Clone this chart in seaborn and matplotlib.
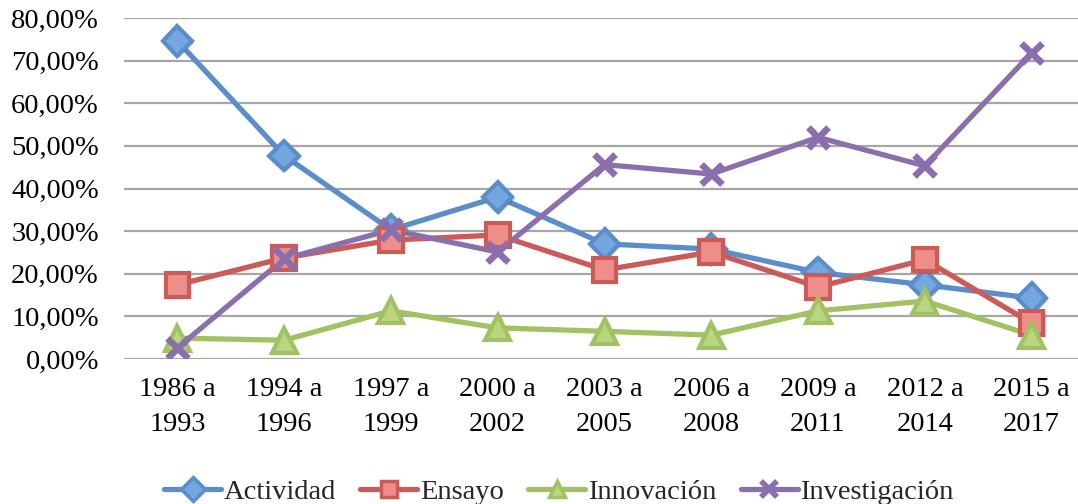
import numpy as np
import pandas as pd
import matplotlib
matplotlib.use("Agg")
import matplotlib.pyplot as plt
import matplotlib.patheffects as pe
from matplotlib.lines import Line2D
from matplotlib.ticker import FuncFormatter
import seaborn as sns

periodos = ["1986 a\n1993", "1994 a\n1996", "1997 a\n1999", "2000 a\n2002", "2003 a\n2005",
            "2006 a\n2008", "2009 a\n2011", "2012 a\n2014", "2015 a\n2017"]
actividad = [74.6, 47.7, 30.3, 38.0, 27.0, 25.8, 20.3, 17.4, 14.3]
ensayo = [17.4, 23.7, 27.9, 29.1, 20.9, 25.1, 16.9, 23.3, 8.4]
innovacion = [4.9, 4.4, 11.3, 7.3, 6.5, 5.6, 11.3, 13.6, 5.6]
investigacion = [2.6, 23.5, 30.3, 25.1, 45.6, 43.4, 52.0, 45.3, 71.8]

series = ["Actividad", "Ensayo", "Innovación", "Investigación"]
valores = [actividad, ensayo, innovacion, investigacion]

df = pd.DataFrame({
    "periodo": np.tile(np.arange(len(periodos)), len(series)),
    "serie": np.repeat(series, len(periodos)),
    "valor": np.concatenate(valores) / 100.0,
})

sns.set_theme(style="white")
plt.rcParams["font.family"] = ["Liberation Serif", "DejaVu Serif"]

colores = {"Actividad": "#5A8ECB", "Ensayo": "#CC5B57",
           "Innovación": "#A0C262", "Investigación": "#8A6FAF"}
relleno = {"Actividad": "#74A6E0", "Ensayo": "#EE8E8A",
           "Innovación": "#B9D57E", "Investigación": "#8A6FAF"}
marcas = {"Actividad": "D", "Ensayo": "s", "Innovación": "^", "Investigación": "x"}
tam = {"Actividad": 15, "Ensayo": 17, "Innovación": 18, "Investigación": 15}

fig = plt.figure(figsize=(10.78, 5.04), dpi=100)
ax = fig.add_axes([124 / 1078, 145 / 504, 961 / 1078, 341 / 504])

sns.lineplot(data=df, x="periodo", y="valor", hue="serie", palette=colores,
             linewidth=3.8, ax=ax, legend=False, sort=False)

sombra = [pe.SimplePatchShadow(offset=(1.5, -1.5), alpha=0.25), pe.Normal()]
for nombre, vals in zip(series, valores):
    xs = np.arange(len(periodos))
    ys = np.array(vals) / 100.0
    if marcas[nombre] == "x":
        ax.plot(xs, ys, linestyle="none", marker="x", markersize=tam[nombre],
                markeredgewidth=4.8, color=colores[nombre], zorder=4,
                path_effects=sombra)
    else:
        ax.plot(xs, ys, linestyle="none", marker=marcas[nombre], markersize=tam[nombre],
                markerfacecolor=relleno[nombre], markeredgecolor=colores[nombre],
                markeredgewidth=3, zorder=4, path_effects=sombra)

ax.set_xlim(-0.5, len(periodos) - 0.5)
ax.set_ylim(0, 0.8)
ax.set_yticks(np.arange(0, 0.81, 0.1))
ax.yaxis.set_major_formatter(FuncFormatter(lambda v, p: f"{v * 100:.2f}%".replace(".", ",")))
ax.set_xticks(np.arange(len(periodos)))
ax.set_xticklabels(periodos, linespacing=1.5)
ax.tick_params(axis="y", labelsize=20.5, pad=18, length=0, colors="#000000")
ax.tick_params(axis="x", labelsize=20.5, pad=13, length=0, colors="#000000")
ax.set_xlabel("")
ax.set_ylabel("")
ax.grid(axis="y", color="#A6A6A6", linewidth=1.6)
ax.grid(axis="x", visible=False)
ax.set_axisbelow(True)
for s in ax.spines.values():
    s.set_visible(False)

handles = []
for nombre in series:
    if marcas[nombre] == "x":
        h = Line2D([], [], color=colores[nombre], linewidth=3.8, marker="x",
                   markersize=12, markeredgewidth=4)
    else:
        h = Line2D([], [], color=colores[nombre], linewidth=3.8, marker=marcas[nombre],
                   markersize=12, markerfacecolor=relleno[nombre],
                   markeredgecolor=colores[nombre], markeredgewidth=2.5)
    handles.append(h)
fig.legend(handles, series, loc="center", bbox_to_anchor=(559 / 1078, 12 / 504),
           ncol=4, frameon=False, fontsize=20.5, handlelength=2.0, handletextpad=0.1,
           columnspacing=0.85)

fig.savefig("out.png", dpi=100)
